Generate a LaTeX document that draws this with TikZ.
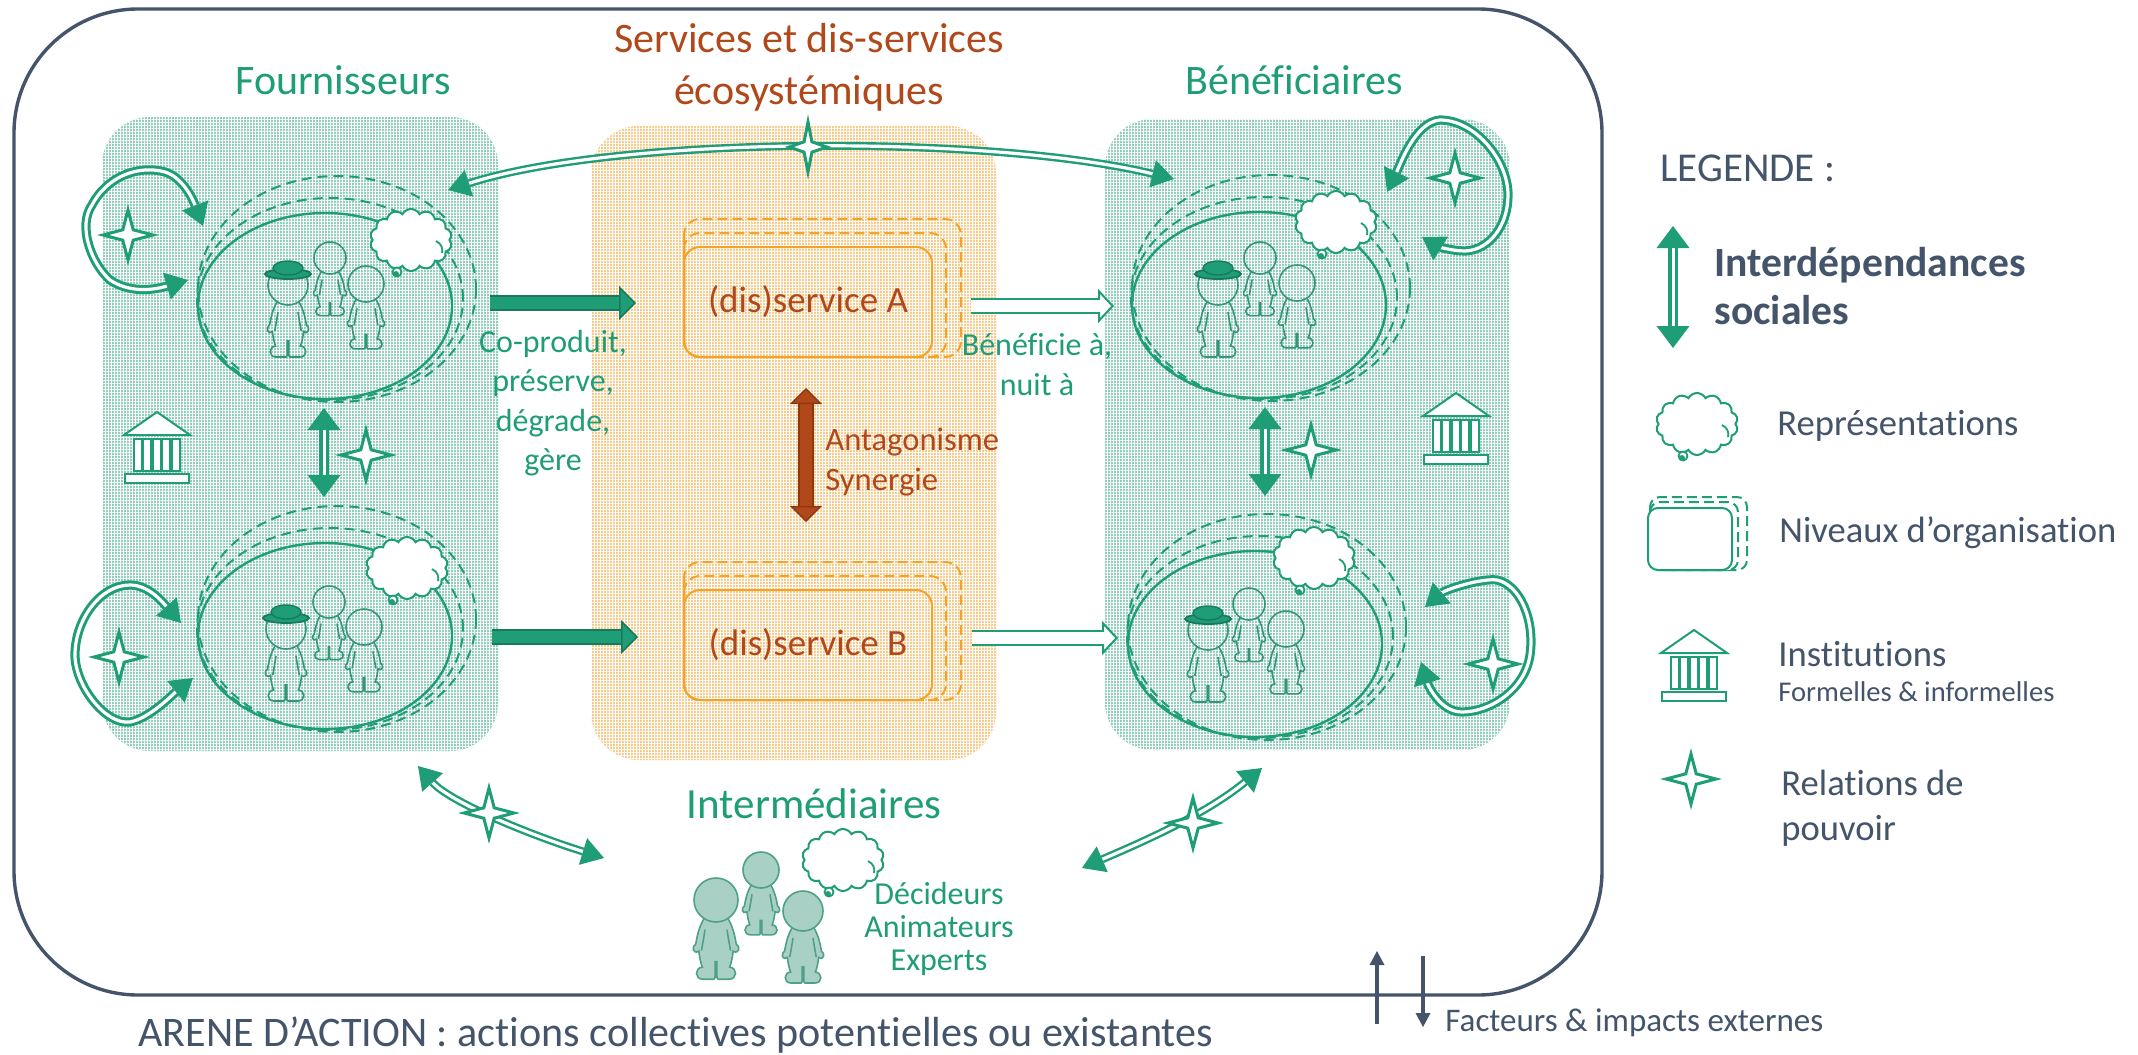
\documentclass[tikz,border=0pt]{standalone}
\usepackage{fontspec}
\setmainfont{Carlito}[Ligatures=NoCommon]
\usetikzlibrary{arrows.meta,shapes.geometric,shapes.symbols,patterns.meta}
\definecolor{gr}{HTML}{1F9D76}
\definecolor{grdark}{HTML}{177A5C}
\definecolor{grperson}{HTML}{35957A}
\definecolor{grlight}{HTML}{93D0BC}
\definecolor{orlight}{HTML}{F9CC8E}
\definecolor{orline}{HTML}{F4A326}
\definecolor{brown}{HTML}{B0481A}
\definecolor{browndark}{HTML}{8C3814}
\definecolor{slate}{HTML}{44546A}
\definecolor{pfill}{HTML}{A9D0C4}
\definecolor{pline}{HTML}{4FA088}
\tikzset{
  wh/.style 2 args={minimum width=#1*.5pt,minimum height=#2*.5pt,inner sep=0pt,outer sep=0pt},
  arena/.style={draw=slate,line width=1.7pt,rounded corners=62pt},
  gridfill/.style={preaction={fill=#1},
    preaction={pattern={Lines[angle=0,distance=1.5pt,line width=.2pt]},pattern color=white},
    pattern={Lines[angle=90,distance=1.5pt,line width=.2pt]},pattern color=white,
    rounded corners=24pt},
  level0/.style={draw=gr,line width=1.2pt,ellipse},
  levelx/.style={draw=gr,line width=1pt,ellipse,dash pattern=on 5pt off 3pt},
  svc0/.style={draw=orline,line width=1pt,rounded corners=8pt,text=brown,font=\fontsize{18.5}{22}\selectfont},
  svcx/.style={draw=orline,line width=1pt,rounded corners=8pt,dash pattern=on 5pt off 2.5pt},
  lvl0/.style={draw=gr,line width=1pt,rounded corners=5pt},
  lvlx/.style={draw=gr,line width=1pt,rounded corners=5pt,dash pattern=on 5pt off 2.5pt},
  dbl/.style={draw=gr,double=white,line width=1.5pt,double distance=1.6pt,
    {Triangle[length=11pt,width=14pt,color=gr,fill=gr,line width=0pt]}-{Triangle[length=11pt,width=14pt,color=gr,fill=gr,line width=0pt]}},
  dblv/.style={draw=gr,double=white,line width=1.7pt,double distance=1.5pt,
    {Triangle[length=11pt,width=16.5pt,color=gr,fill=gr,line width=0pt]}-{Triangle[length=11pt,width=16.5pt,color=gr,fill=gr,line width=0pt]}},
  dblock/.style={draw=grdark,double=gr,line width=1pt,double distance=6pt,
    -{Triangle[length=8.5pt,width=17pt,color=grdark,fill=gr,line width=.8pt]}},
  wblock/.style={draw=gr,double=white,line width=1pt,double distance=6pt,
    -{Triangle[length=8pt,width=17pt,color=gr,fill=white,line width=1pt]}},
  wblockin/.style={draw=white,line width=6pt,shorten >=6.5pt,shorten <=.4pt},
  brblock/.style={draw=browndark,double=brown,line width=.8pt,double distance=6pt,
    {Triangle[length=8pt,width=16pt,color=browndark,fill=brown,line width=.7pt]}-{Triangle[length=8pt,width=16pt,color=browndark,fill=brown,line width=.7pt]}},
  ext/.style={draw=slate,line width=2.2pt,-{Triangle[length=7pt,width=7.5pt,color=slate,fill=slate,line width=0pt]}},
  pstar/.style={star,star points=4,star point ratio=3.4,draw=gr,fill=white,line width=1.5pt,
    minimum size=25pt,inner sep=0pt,outer sep=0pt},
  thoughtcloud/.style={cloud,cloud puffs=14,cloud puff arc=125,cloud ignores aspect,draw=gr,fill=white,
    line width=1pt,minimum width=41pt,minimum height=31pt,inner sep=0pt},
  personline/.style={draw=grperson,line width=.8pt},
  gtext/.style={text=gr,inner sep=0pt,align=center},
  btext/.style={text=brown,inner sep=0pt,align=center},
  stext/.style={text=slate,inner sep=0pt,align=left},
  big/.style={font=\fontsize{21}{26}\selectfont},
  mid/.style={font=\fontsize{16}{20}\selectfont},
  leg/.style={font=\fontsize{18.3}{22.5}\selectfont},
  pics/thought/.style={code={
    \node[thoughtcloud] (-c) at (0,0) {};
    \draw[draw=gr,line width=.9pt] (25,1) .. controls (31,4) and (32,9) .. (31,13);
    \filldraw[draw=gr,fill=white,line width=.9pt] (-14,32) circle (4.5);
    \fill[gr] (-15,34) circle (3);
  }},
  pics/person/.style={code={
    \path[personline]
      (-.55,.85) .. controls (-.78,1.25) and (-.85,1.6) .. (-.92,2.0)
      .. controls (-1.12,2.1) and (-1.05,2.5) .. (-.78,2.32)
      .. controls (-.75,2.6) and (-.7,2.85) .. (-.62,3.05)
      .. controls (-.98,3.08) and (-.98,3.6) .. (-.6,3.6)
      -- (-.1,3.6) .. controls (-.04,3.6) and (-.04,3.5) .. (-.04,3.4) -- (-.04,2.8)
      -- (.04,2.8) -- (.04,3.4) .. controls (.04,3.5) and (.04,3.6) .. (.1,3.6)
      -- (.6,3.6) .. controls (.98,3.6) and (.98,3.08) .. (.62,3.05)
      .. controls (.7,2.85) and (.75,2.6) .. (.78,2.32)
      .. controls (1.05,2.5) and (1.12,2.1) .. (.92,2.0)
      .. controls (.85,1.6) and (.78,1.25) .. (.55,.85);
    \draw[personline,fill=none] (-.5,1.35) .. controls (-.55,1.7) and (-.62,2.05) .. (-.66,2.3);
    \draw[personline,fill=none] (.5,1.35) .. controls (.55,1.7) and (.62,2.05) .. (.66,2.3);
    \path[personline] (0,0) circle (1);
  }},
  pics/hat/.style={code={
    \filldraw[draw=grdark,fill=gr,line width=.9pt] (0,-11) ellipse (23 and 5);
    \filldraw[draw=grdark,fill=gr,line width=.7pt] (0,-17) ellipse (15 and 7);
  }},
  pics/institution/.style={code={
    \filldraw[draw=gr,fill=white,line width=1pt,line join=miter] (0,0) -- (33,23) -- (-33,23) -- cycle;
    \foreach \i in {0,1,2,3,4}{
      \filldraw[draw=gr,fill=white,line width=1pt] ({-23.5+9.5*\i},27) rectangle ({-15.5+9.5*\i},59);
    }
    \filldraw[draw=gr,fill=white,line width=1pt] (-32,62) rectangle (32,71);
  }},
  pics/levels/.style={code={
    \node[levelx,wh={278}{226}] (-c) at (12,-17) {};
    \node[levelx,wh={266}{202}] (-b) at (5,-7) {};
    \node[level0,wh={254}{186}] (-a) at (0,0) {};
  }}
}
\begin{document}
\begin{tikzpicture}[x=.5pt,y=-.5pt]
\useasboundingbox (0,0) rectangle (2138,1055);
\fill[white] (0,0) rectangle (2138,1055);

% arena
\draw[arena] (14,9) rectangle (1602,995);

% panels
\node[wh={396}{634},gridfill=grlight] (fourn) at (300,434) {};
\node[wh={405}{634},gridfill=orlight] (serv) at (793.5,443) {};
\node[wh={405}{631},gridfill=grlight] (benef) at (1307.5,434.5) {};

% actor groups
\pic (ft) at (325,306) {levels};
\pic (fb) at (325,636) {levels};
\pic (bt) at (1259,305) {levels};
\pic (bb) at (1255,644) {levels};

\pic (tft) at (411,240) {thought};
\pic (tfb) at (407,568) {thought};
\pic (tbt) at (1336,222) {thought};
\pic (tbb) at (1314,558) {thought};

\foreach \nm/\x/\y/\r in {
  a1/288/285/20,a2/330/258/16,a3/366/284/18,
  b1/286/629/20,b2/329/602/16,b3/364/627/18,
  c1/1218/285/20,c2/1260/258/16,c3/1297/283/18,
  d1/1208/630/20,d2/1249/604/16,d3/1286/629/18}{
  \pic (\nm) [scale=\r] at (\x,\y) {person};
}
\pic (ha) at (288,285) {hat};
\pic (hb) at (286,629) {hat};
\pic (hc) at (1218,285) {hat};
\pic (hd) at (1208,630) {hat};

% institutions
\pic (ifourn) at (157,412) {institution};
\pic (ibenef) at (1456,393) {institution};

% services
\draw[svcx] (684,219) rectangle (961,357);
\draw[svcx] (684,233) rectangle (946,357);
\node[svc0,wh={248}{110}] (sa) at (808,302) {(dis)service A};
\draw[svcx] (684,562) rectangle (961,700);
\draw[svcx] (684,576) rectangle (946,700);
\node[svc0,wh={248}{110}] (sb) at (808,645) {(dis)service B};

% connector ends
\coordinate (l1a) at (188,280); \coordinate (l1b) at (203,226);
\coordinate (l2a) at (181,623); \coordinate (l2b) at (193,678);
\coordinate (l3a) at (1387,192); \coordinate (l3b) at (1422,237);
\coordinate (l4a) at (1425,607); \coordinate (l4b) at (1421,662);
\coordinate (arcL) at (448,190); \coordinate (arcR) at (1174,179);
\coordinate (vfa) at (324,408); \coordinate (vfb) at (324,497);
\coordinate (vba) at (1265,407); \coordinate (vbb) at (1265,496);
\coordinate (vla) at (1673,226); \coordinate (vlb) at (1673,348);
\coordinate (d1a) at (418,766); \coordinate (d1b) at (604,858);
\coordinate (d2a) at (1082,868); \coordinate (d2b) at (1262,768);
\coordinate (da1) at (490,303); \coordinate (db1) at (636,303);
\coordinate (da2) at (492,637); \coordinate (db2) at (638,637);
\coordinate (wa1) at (971,306); \coordinate (wb1) at (1114,306);
\coordinate (wa2) at (972,638); \coordinate (wb2) at (1118,638);
\coordinate (ba) at (806,388); \coordinate (bb) at (806,522);
\coordinate (eua) at (1377,1024); \coordinate (eub) at (1377,951);
\coordinate (eda) at (1423,956); \coordinate (edb) at (1423,1027);

% loops and arcs
\draw[dbl] (l1a) .. controls (150,291) and (128,292) .. (110,280)
   .. controls (90,262) and (78,225) .. (92,205)
   .. controls (108,175) and (140,165) .. (165,172)
   .. controls (185,178) and (195,205) .. (l1b);
\draw[dbl] (l2a) .. controls (165,605) and (150,585) .. (130,585)
   .. controls (100,585) and (75,620) .. (75,655)
   .. controls (75,685) and (105,725) .. (130,722)
   .. controls (150,718) and (172,695) .. (l2b);
\draw[dbl] (l3a) .. controls (1400,165) and (1415,122) .. (1440,120)
   .. controls (1475,120) and (1508,160) .. (1508,195)
   .. controls (1508,225) and (1490,250) .. (1465,251)
   .. controls (1450,251) and (1435,245) .. (l3b);
\draw[dbl] (l4a) .. controls (1445,590) and (1480,578) .. (1497,580)
   .. controls (1520,585) and (1535,620) .. (1530,655)
   .. controls (1525,690) and (1490,712) .. (1462,712)
   .. controls (1440,712) and (1428,685) .. (l4b);
\draw[dbl,line width=1.2pt] (arcL) .. controls (620,135) and (993,135) .. (arcR);
\draw[dbl,line width=1.2pt] (d1a) .. controls (450,802) and (530,835) .. (d1b);
\draw[dbl,line width=1.2pt] (d2a) .. controls (1140,843) and (1205,815) .. (d2b);
\draw[dblv] (vfa) -- (vfb);
\draw[dblv] (vba) -- (vbb);
\draw[dblv] (vla) -- (vlb);

% block arrows
\draw[dblock] (da1) -- (db1);
\draw[dblock] (da2) -- (db2);
\draw[wblock] (wa1) -- (wb1);
\draw[wblockin] (wa1) -- (wb1);
\draw[wblock] (wa2) -- (wb2);
\draw[wblockin] (wa2) -- (wb2);
\draw[brblock] (ba) -- (bb);

% external arrows
\draw[ext] (eua) -- (eub);
\draw[ext] (eda) -- (edb);

% power stars
\node[pstar] (s1) at (128,235) {};
\node[pstar] (s2) at (119,657) {};
\node[pstar] (s3) at (1455,178) {};
\node[pstar] (s4) at (1493,664) {};
\node[pstar] (s5) at (366,455) {};
\node[pstar] (s6) at (1311,450) {};
\node[pstar,transform shape,xscale=.75] (s7) at (808,147) {};
\node[pstar] (s8) at (489,813) {};
\node[pstar] (s9) at (1193,823) {};
\node[pstar] (s10) at (1691,779) {};

% intermediaries
\tikzset{personline/.style={draw=pline,fill=pfill,line width=.8pt}}
\pic (i1) [scale=22] at (716,900) {person};
\pic (i2) [scale=18] at (761,870) {person};
\pic (i3) [scale=20] at (803,911) {person};
\pic (tin) at (843,860) {thought};

% legend icons
\pic (tleg) at (1697,424) {thought};
\draw[lvlx,fill=white] (1650,497) rectangle (1747,570);
\draw[lvlx,fill=white] (1650,502) rectangle (1738,570);
\node[lvl0,fill=white,wh={84}{62}] (lvlleg) at (1690,539) {};
\pic (ileg) at (1694,630) {institution};

% texts
\node[gtext,big] (t1) at (343,80) {Fournisseurs};
\node[gtext,big] (t2) at (1294,80) {Bénéficiaires};
\node[btext,big] (t3) at (809,67) {Services et dis-services\\écosystémiques};
\node[gtext,font=\fontsize{21.5}{26}\selectfont] (t4) at (814,804) {Intermédiaires};
\node[gtext,mid,font=\fontsize{16}{19.7}\selectfont] (t5) at (553,403) {Co-produit,\\préserve,\\dégrade,\\gère};
\node[gtext,mid] (t6) at (1037,365) {Bénéficie à,\\nuit à};
\node[btext,font=\fontsize{16.3}{20}\selectfont,align=left,anchor=west] (t7) at (825,462) {Antagonisme\\Synergie};
\node[gtext,font=\fontsize{16}{16.3}\selectfont] (t8) at (939,929) {Décideurs\\Animateurs\\Experts};
\node[stext,font=\fontsize{21.05}{26}\selectfont,anchor=west] (t9) at (138,1035) {ARENE D’ACTION : actions collectives potentielles ou existantes};
\node[stext,font=\fontsize{16.5}{20}\selectfont,anchor=west] (t10) at (1445,1023) {Facteurs \& impacts externes};
\node[stext,font=\fontsize{20.5}{25}\selectfont,anchor=west] (t11) at (1660,168) {LEGENDE :};
\node[stext,font=\fontsize{20.8}{24}\bfseries\selectfont,anchor=west] (t12) at (1714,286) {Interdépendances\\sociales};
\node[stext,leg,anchor=west] (t13) at (1777,426) {Représentations};
\node[stext,leg,anchor=west] (t14) at (1779,533) {Niveaux d’organisation};
\node[stext,leg,anchor=west] (t15) at (1778,654) {Institutions};
\node[stext,font=\fontsize{14.3}{18}\selectfont,anchor=west] (t16) at (1778,692) {Formelles \& informelles};
\node[stext,leg,anchor=west] (t17) at (1781,808) {Relations de\\pouvoir};
\end{tikzpicture}
\end{document}
